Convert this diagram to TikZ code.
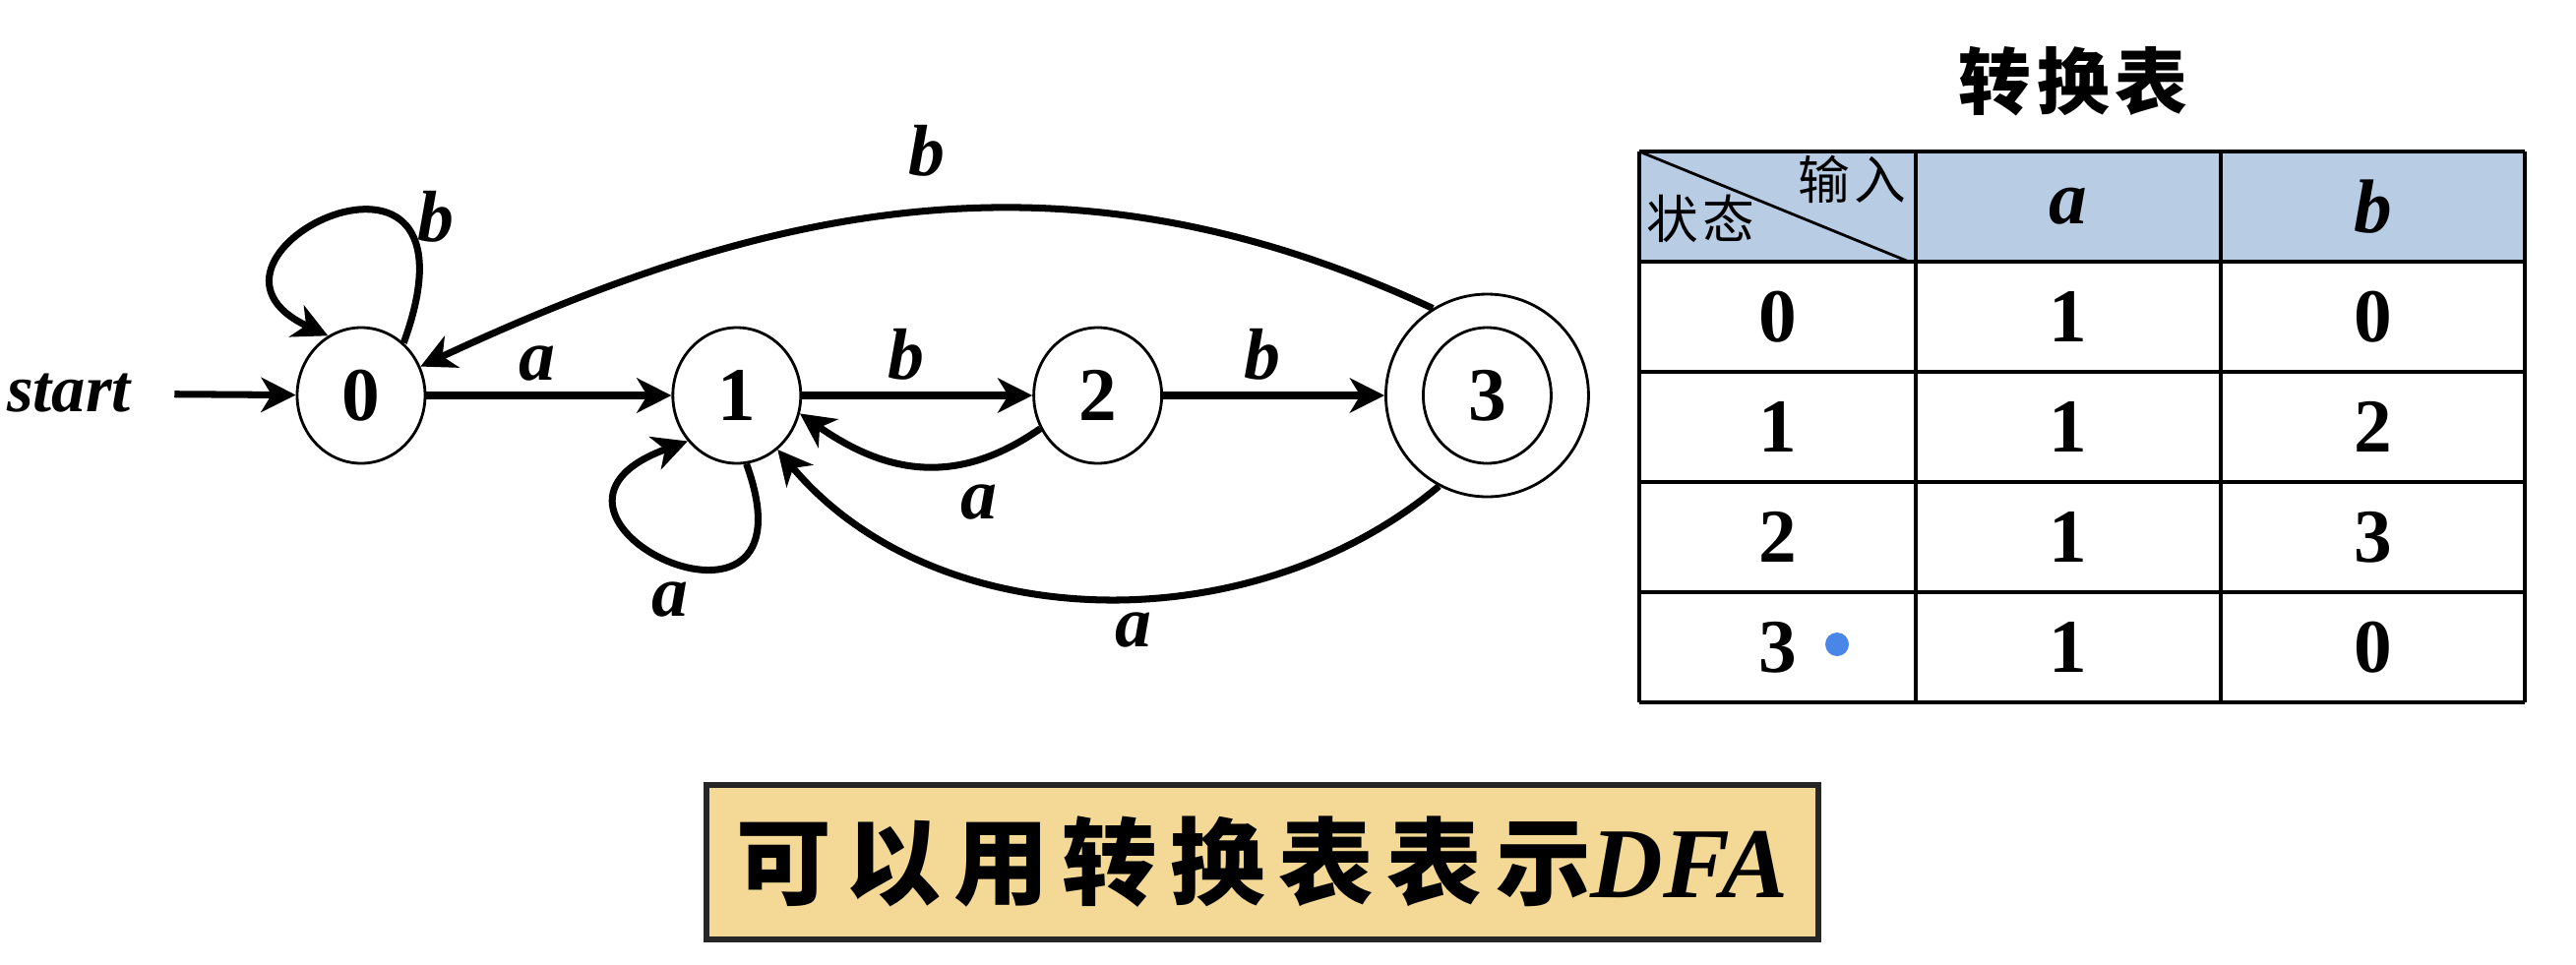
\documentclass[tikz,border=0pt]{standalone}
\usepackage{fontspec}
\setmainfont{Liberation Serif}
\newfontfamily\cjk{Noto Sans CJK SC}[LetterSpace=8]
\newfontfamily\cjkwide{Noto Sans CJK SC}[LetterSpace=14]
\usetikzlibrary{shapes.geometric, arrows.meta, positioning, calc}
\definecolor{hdrblue}{RGB}{184,204,228}
\definecolor{notetan}{RGB}{244,217,150}
\definecolor{dotblue}{RGB}{74,134,232}

\begin{document}
\begin{tikzpicture}[
    state/.style={ellipse, draw, line width=0.8pt, minimum width=1.30cm,
        minimum height=1.38cm, inner sep=0pt,
        font=\fontsize{22}{22}\selectfont\bfseries},
    final/.style={circle, draw, line width=0.8pt, minimum size=2.06cm},
    arr/.style={-{Stealth[length=10pt, width=10pt, inset=3pt]}, line width=2pt},
    lbl/.style={font=\fontsize{21}{21}\selectfont\bfseries\itshape},
    cell/.style={font=\fontsize{22}{22}\selectfont\bfseries},
    hdr/.style={font=\fontsize{22}{22}\selectfont\bfseries\itshape},
    zh/.style={font=\fontsize{15}{15}\selectfont\cjk},
    tabline/.style={line width=1pt}
]
\useasboundingbox (0,0) rectangle (26.18,9.80);

% automaton
\node[lbl, font=\fontsize{19.5}{19.5}\selectfont\bfseries\itshape] (start) at (0.70,5.80) {start};
\node[state] (s0) at (3.67,5.78) {0};
\node[state, right=2.49cm of s0] (s1) {1};
\node[state, right=2.34cm of s1] (s2) {2};
\node[state, right=2.63cm of s2] (s3) {3};
\node[final] (s3o) at (s3) {};

\draw[arr, shorten <=0.32cm] (start) -- (s0);
\draw[arr] (s0) -- node[pos=0.45, above, lbl] {a} (s1);
\draw[arr] (s1) -- node[pos=0.45, above, lbl] {b} (s2);
\draw[arr] (s2) -- node[pos=0.45, above, lbl] {b} (s3o);
\draw[arr] (s2.210) to[out=215, in=-35, looseness=1.1] node[pos=0.25, below=3pt, lbl] {a} (s1.-16);
\draw[arr] (s3o.242) to[out=220, in=-50, looseness=0.95] node[pos=0.45, below, lbl] {a} (s1.-53);
\draw[arr] (s3o.122) to[out=155, in=25] node[above=6pt, lbl] {b} (s0.26);
\draw[arr] (s0.51) .. controls +(70:2.7) and +(155:1.9) .. node[pos=0.3, right=2pt, lbl] {b} (s0.119);
\draw[arr] (s1.-82) .. controls +(-70:2.3) and +(200:2.2) .. node[below=2pt, lbl] {a} (s1.223);

% transition table
\node[font=\fontsize{21}{21}\selectfont\cjk\bfseries] (ttl) at (21.07,8.97) {转换表};
\fill[hdrblue] (16.66,7.14) rectangle (25.66,8.26);
\foreach \y in {8.26,7.14,6.02,4.90,3.78,2.66}
    \draw[tabline] (16.66,\y) -- (25.66,\y);
\foreach \x in {16.66,19.47,22.57,25.66}
    \draw[tabline] (\x,8.26) -- (\x,2.66);
\draw[line width=0.8pt] (16.66,8.26) -- (19.40,7.14);
\node[zh] (inp) at (18.82,7.98) {输入};
\node[zh] (stt) at (17.28,7.58) {状态};
\node[hdr] (ha) at (21.02,7.70) {a};
\node[hdr] (hb) at (24.115,7.70) {b};
\foreach \st/\na/\nb [count=\i from 0] in {0/1/0, 1/1/2, 2/1/3, 3/1/0} {
    \node[cell] (st\i) at (18.065,{6.58-1.12*\i}) {\st};
    \node[cell] (na\i) at (21.02,{6.58-1.12*\i}) {\na};
    \node[cell] (nb\i) at (24.115,{6.58-1.12*\i}) {\nb};
}
\node[circle, fill=dotblue, minimum size=0.24cm, inner sep=0pt] (dot) at (18.67,3.25) {};

% note
\node[draw=black!85, line width=1.5pt, fill=notetan, minimum width=11.30cm,
    minimum height=1.57cm, font=\fontsize{27.5}{27.5}\selectfont\cjkwide\bfseries]
    (note) at (12.83,1.035) {可以用转换表表示{\normalfont\fontsize{29}{29}\selectfont\bfseries\itshape DFA}};
\end{tikzpicture}
\end{document}
